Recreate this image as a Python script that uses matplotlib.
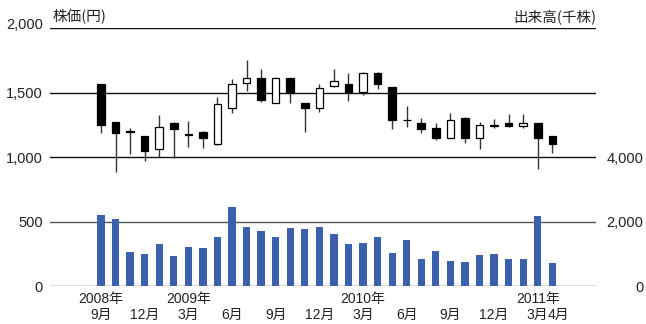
import matplotlib
matplotlib.use("Agg")
import matplotlib.pyplot as plt
from matplotlib.transforms import ScaledTranslation
import numpy as np

plt.rcParams["font.family"] = ["Liberation Sans", "Noto Sans CJK JP"]

# Monthly OHLC (yen), Sep 2008 .. Apr 2011
opens = [1565, 1275, 1200, 1166, 1065, 1262, 1176, 1195, 1104, 1384, 1575, 1611,
         1422, 1611, 1420, 1384, 1552, 1567, 1505, 1653, 1544, 1290, 1262, 1223,
         1151, 1305, 1151, 1250, 1262, 1241, 1262, 1161]
closes = [1249, 1184, 1195, 1047, 1236, 1215, 1172, 1151, 1412, 1567, 1614, 1443,
          1611, 1495, 1378, 1536, 1593, 1503, 1650, 1570, 1285, 1286, 1218, 1151,
          1290, 1147, 1249, 1243, 1241, 1267, 1151, 1104]
highs = [1570, 1275, 1228, 1166, 1329, 1270, 1280, 1205, 1466, 1609, 1751, 1681,
         1622, 1611, 1420, 1570, 1681, 1655, 1663, 1663, 1544, 1394, 1306, 1267,
         1340, 1310, 1275, 1298, 1337, 1332, 1262, 1161]
lows = [1190, 887, 1027, 967, 1001, 996, 1081, 1071, 1091, 1345, 1513, 1428,
        1417, 1422, 1197, 1353, 1541, 1435, 1479, 1526, 1215, 1236, 1187, 1130,
        1145, 1109, 1065, 1228, 1236, 1228, 905, 1032]
# Monthly volume (thousand shares)
volumes = [2215, 2092, 1046, 985, 1292, 923, 1200, 1169, 1508, 2462, 1846, 1692,
           1508, 1815, 1754, 1846, 1600, 1292, 1323, 1508, 1015, 1415, 831, 1077,
           769, 738, 954, 985, 831, 831, 2185, 708]

month_ticks = [0, 3, 6, 9, 12, 15, 18, 21, 24, 27, 30, 31]
month_labels = ["9月", "12月", "3月", "6月", "9月", "12月", "3月", "6月", "9月",
                "12月", "3月", "4月"]
year_pos = [0, 6, 18, 30]
year_labels = ["2008年", "2009年", "2010年", "2011年"]

price_ticks = [0, 500, 1000, 1500, 2000]
price_labels = ["0", "500", "1,000", "1,500", "2,000"]
vol_ticks = [0, 2000, 4000]
vol_labels = ["0", "2,000", "4,000"]

text_color = "#222222"

fig = plt.figure(figsize=(6.46, 3.24), dpi=100)
ax = fig.add_axes([50 / 646, 38 / 324, 546 / 646, (286 - 28.3) / 324])
ax.set_xlim(-3.5, 34.0)
ax.set_ylim(0, 2000)
ax2 = ax.twinx()
ax2.set_ylim(0, 8000)
for a in (ax, ax2):
    for s in a.spines.values():
        s.set_visible(False)

# horizontal rules
for v in price_ticks:
    ax.axhline(v, color="#111111" if v >= 1000 else "#555555", lw=1.0, zorder=1)

x = np.arange(len(opens))
o = np.array(opens)
c = np.array(closes)

# volume bars
ax2.bar(x, volumes, width=0.5, color="#3b61ad", zorder=2)

# candlesticks
ax.vlines(x, lows, highs, color="#333333", lw=1.0, zorder=3)
up = c >= o
body = np.maximum(np.abs(c - o), 3)
ax.bar(x, body, bottom=np.minimum(o, c), width=0.52,
       color=np.where(up, "white", "black"), edgecolor="black", lw=0.9, zorder=4)

# axes ticks
ax.set_yticks(price_ticks, price_labels)
ax.tick_params(axis="y", length=0, pad=5, labelsize=10.5, labelcolor=text_color)
ax2.set_yticks(vol_ticks, vol_labels)
ax2.tick_params(axis="y", length=0, pad=34, labelsize=10.5, labelcolor=text_color)
for lbl in ax2.get_yticklabels():
    lbl.set_horizontalalignment("right")

ax.set_xticks(month_ticks, month_labels)
ax.tick_params(axis="x", length=0, pad=15.5, labelsize=10, labelcolor=text_color)
xl = ax.get_xticklabels()
xl[-1].set_transform(xl[-1].get_transform() + ScaledTranslation(6.5 / 100, 0, fig.dpi_scale_trans))
xl[-2].set_transform(xl[-2].get_transform() + ScaledTranslation(-1 / 100, 0, fig.dpi_scale_trans))

top_lbl = ax.get_yticklabels()[-1]
top_lbl.set_transform(top_lbl.get_transform() + ScaledTranslation(0, 5 / 100, fig.dpi_scale_trans))

for p, t in zip(year_pos, year_labels):
    ax.annotate(t, xy=(p, 0), xycoords=("data", "axes fraction"), xytext=(0, -9),
                textcoords="offset points", ha="center", va="center",
                fontsize=10, color=text_color)

title_font = ["Noto Sans CJK JP", "Liberation Sans"]
ax.annotate("株価(円)", xy=(0, 1), xycoords="axes fraction", xytext=(1.5, 3),
            textcoords="offset points", ha="left", va="bottom", fontsize=10.5,
            family=title_font, color=text_color)
ax.annotate("出来高(千株)", xy=(1, 1), xycoords="axes fraction", xytext=(0, 3),
            textcoords="offset points", ha="right", va="bottom", fontsize=10.5,
            family=title_font, color=text_color)

fig.savefig("out.png", dpi=100)
